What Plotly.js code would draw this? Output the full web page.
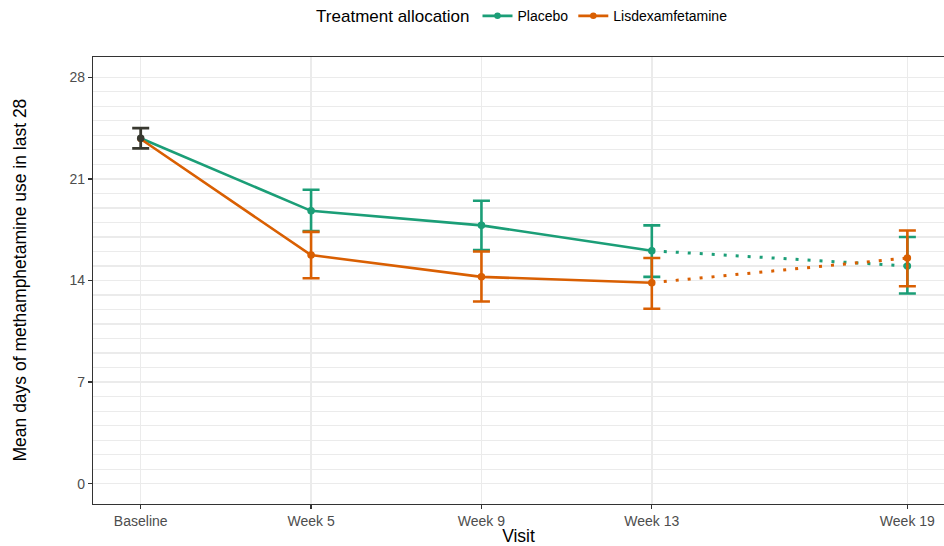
<!DOCTYPE html>
<html>
<head>
<meta charset="utf-8">
<script src="https://cdn.plot.ly/plotly-3.0.1.min.js"></script>
<style>html,body{margin:0;padding:0;background:#fff}#chart{width:944px;height:546px}</style>
</head>
<body>
<div id="chart"></div>
<script>
// Visits (x positions on the visit scale) and labels
var visitLabels = ["Baseline", "Week 5", "Week 9", "Week 13", "Week 19"];
var visitPos = [1, 2, 3, 4, 5.5];

// Pooled baseline
var baselineMean = 23.8;
var baselineLower = 23.1;
var baselineUpper = 24.5;

// Placebo (Baseline, Week 5, Week 9, Week 13, Week 19)
var placeboMean  = [23.8, 18.8, 17.8, 16.05, 15.0];
var placeboLower = [23.1, 17.4, 16.1, 14.25, 13.1];
var placeboUpper = [24.5, 20.25, 19.5, 17.8, 17.0];

// Lisdexamfetamine
var lisdexMean  = [23.75, 15.75, 14.25, 13.85, 15.55];
var lisdexLower = [23.1, 14.15, 12.55, 12.05, 13.6];
var lisdexUpper = [24.5, 17.35, 16.0, 15.55, 17.45];

var green = "#1b9e77", orange = "#d95f02", dark = "#38382f";
var FONT = "Liberation Sans, Arial, sans-serif";

function groupTraces(name, color, mean, lower, upper) {
  var solidX = visitPos.slice(0, 4), solidY = mean.slice(0, 4);
  var dotX = visitPos.slice(3), dotY = mean.slice(3);
  var ebX = visitPos.slice(1), ebY = mean.slice(1);
  var plus = [], minus = [];
  for (var i = 1; i < mean.length; i++) {
    plus.push(upper[i] - mean[i]);
    minus.push(mean[i] - lower[i]);
  }
  return [
    {x: solidX, y: solidY, name: name, type: "scatter", mode: "lines+markers",
     line: {color: color, width: 2.6}, marker: {color: color, size: 6.5}, showlegend: true},
    {x: dotX, y: dotY, type: "scatter", mode: "lines", showlegend: false, hoverinfo: "skip",
     line: {color: color, width: 3, dash: "3px,9px"}},
    {x: ebX, y: ebY, type: "scatter", mode: "markers", showlegend: false,
     marker: {color: color, size: 7.5},
     error_y: {type: "data", symmetric: false, array: plus, arrayminus: minus,
               color: color, thickness: 2.6, width: 8.5}}
  ];
}

var traces = [].concat(
  groupTraces("Placebo", green, placeboMean, placeboLower, placeboUpper),
  groupTraces("Lisdexamfetamine", orange, lisdexMean, lisdexLower, lisdexUpper),
  [{x: [visitPos[0]], y: [baselineMean], type: "scatter", mode: "markers", showlegend: false,
    marker: {color: dark, size: 7.5},
    error_y: {type: "data", symmetric: false, array: [baselineUpper - baselineMean],
              arrayminus: [baselineMean - baselineLower], color: dark, thickness: 2.8, width: 8.5}}]
);

var minorVals = [];
for (var v = 0; v <= 28; v++) minorVals.push(v);

var layout = {
  width: 944, height: 546,
  margin: {l: 93, r: 0, t: 57, b: 42},
  paper_bgcolor: "#fff", plot_bgcolor: "#fff",
  font: {family: FONT, color: "#000"},
  showlegend: true,
  legend: {orientation: "h", x: 0.506, xanchor: "center", y: 1.09, yanchor: "middle",
           font: {size: 14, color: "#000"},
           title: {text: "Treatment allocation", font: {size: 17, color: "#000"}, side: "left"},
           itemwidth: 30, tracegroupgap: 0},
  xaxis: {
    range: [0.72, 5.715], tickmode: "array", tickvals: visitPos, ticktext: visitLabels,
    showgrid: true, gridcolor: "#ebebeb", gridwidth: 1.5, zeroline: false,
    showline: true, linecolor: "#333", linewidth: 1.2, mirror: true,
    ticks: "outside", ticklen: 4, tickcolor: "#333", tickwidth: 1.2,
    tickfont: {size: 14, color: "#4d4d4d"},
    title: {text: "Visit", font: {size: 17.5, color: "#000"}, standoff: 2}
  },
  yaxis: {
    range: [-1.4, 29.4], tickmode: "array", tickvals: [0, 7, 14, 21, 28],
    showgrid: true, gridcolor: "#ebebeb", gridwidth: 1.5, zeroline: false,
    minor: {tickmode: "array", tickvals: minorVals, showgrid: true, gridcolor: "#ebebeb", gridwidth: 1.2, ticks: ""},
    showline: true, linecolor: "#333", linewidth: 1.2, mirror: false,
    ticks: "outside", ticklen: 4, tickcolor: "#333", tickwidth: 1.2,
    tickfont: {size: 14, color: "#4d4d4d"}
  },
  annotations: [{
    text: "Mean days of methamphetamine use in last 28", xref: "paper", yref: "paper",
    x: 0, y: 0.5, xanchor: "center", yanchor: "middle", xshift: -74, textangle: -90,
    showarrow: false, font: {size: 17.5, color: "#000", family: FONT}
  }]
};

Plotly.newPlot("chart", traces, layout, {staticPlot: true, displayModeBar: false});
</script>
</body>
</html>
